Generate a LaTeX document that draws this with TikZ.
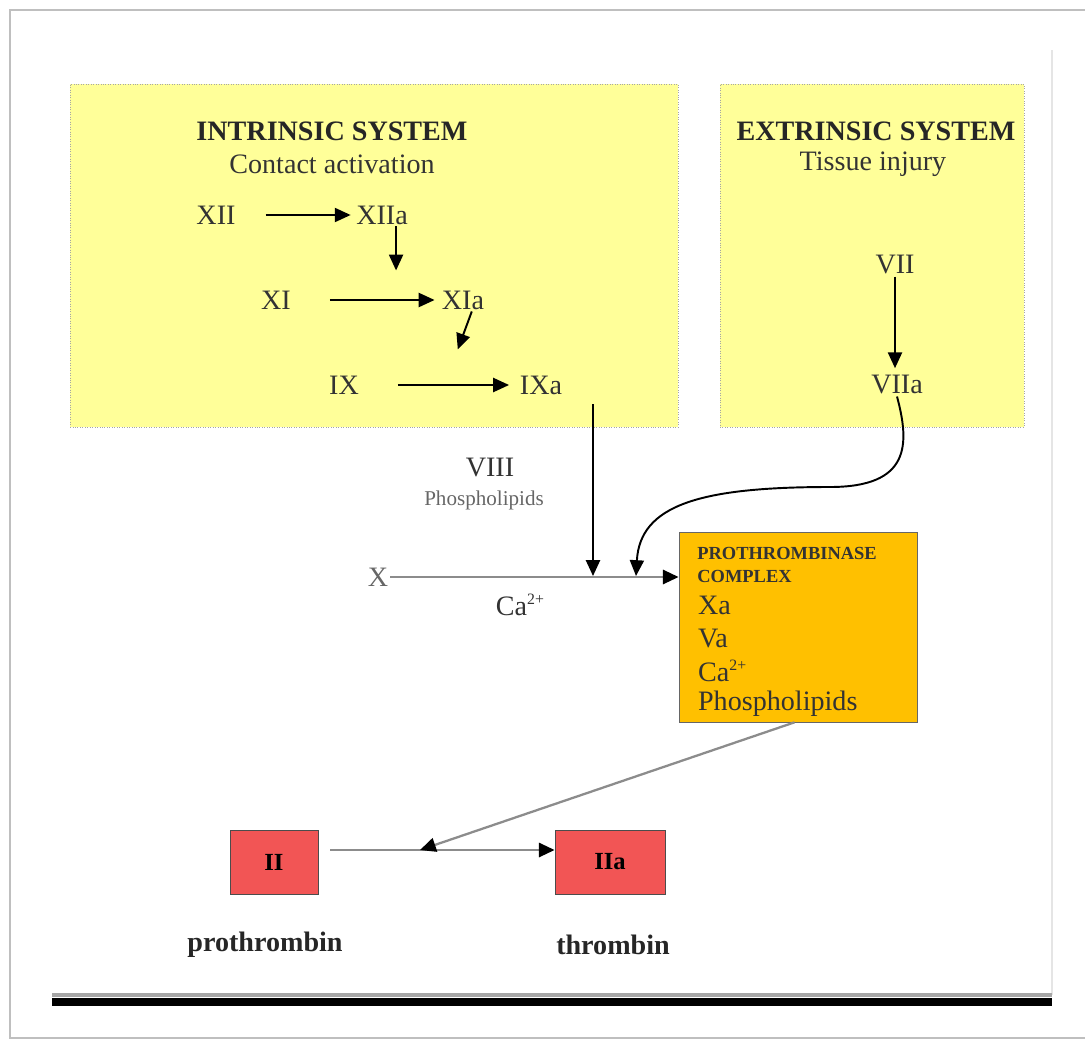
\documentclass[tikz,border=0pt]{standalone}
\usepackage{fontspec}
\setmainfont{Liberation Serif}
\usetikzlibrary{arrows.meta,positioning,calc}
\definecolor{padyellow}{HTML}{FFFF99}
\definecolor{complexgold}{HTML}{FFC000}
\definecolor{factorred}{HTML}{F25555}
\newcommand{\ionsup}[1]{\raisebox{0.85ex}{\fontsize{9}{9}\selectfont #1}}

\begin{document}
\begin{tikzpicture}[
    x=0.02cm, y=-0.02cm,
    panel/.style={rectangle, draw=black!35, densely dotted, fill=padyellow, inner sep=0pt},
    title/.style={font=\bfseries\fontsize{16}{19}\selectfont, text=black!85},
    factor/.style={font=\fontsize{16}{19}\selectfont, text=black!80, inner sep=1pt},
    small/.style={font=\fontsize{12}{14}\selectfont, text=black!60, inner sep=1pt},
    arr/.style={-{Triangle[length=9pt,width=8pt]}, line width=1.1pt},
    garr/.style={-{Triangle[length=9pt,width=8pt,color=black]}, draw=black!45, line width=1.6pt},
    redbox/.style={rectangle, draw=black!70, fill=factorred, minimum height=1.28cm, font=\bfseries\fontsize{14}{16}\selectfont}
]
\useasboundingbox (0,0) rectangle (1085,1041);
% page frame
\draw[black!25, line width=1.5pt] (1085,10) -- (10,10) -- (10,1038) -- (1085,1038);
\draw[black!10, line width=1pt] (1052,50) -- (1052,995);

% the two systems
\node[panel, minimum width=12.16cm, minimum height=6.86cm] (intr) at (374,255.5) {};
\node[panel, minimum width=6.08cm, minimum height=6.86cm] (extr) at (872,255.5) {};

\node[title] (intrtitle) at (332,131) {INTRINSIC SYSTEM};
\node[factor] (contact) at (332,164) {Contact activation};
\node[title] (extrtitle) at (876,131) {EXTRINSIC SYSTEM};
\node[factor] (injury) at (873,164) {Tissue injury};

% intrinsic cascade
\node[factor] (XII) at (216,215) {XII};
\node[factor] (XIIa) at (382,215) {XIIa};
\node[factor] (XI) at (276,300) {XI};
\node[factor] (XIa) at (463,300) {XIa};
\node[factor] (IX) at (344,385) {IX};
\node[factor] (IXa) at (541,385) {IXa};

\draw[arr] ([xshift=16pt]XII.east) -- ([xshift=-2pt]XIIa.west);
\draw[arr] ([xshift=8pt]XIIa.south) -- ++(0,44);
\draw[arr] ([xshift=21pt]XI.east) -- ([xshift=-3pt]XIa.west);
\draw[arr] ([xshift=5pt]XIa.south) -- ++(-14,38);
\draw[arr] ([xshift=21pt]IX.east) -- ([xshift=-5pt]IXa.west);

% extrinsic
\node[factor] (VII) at (895,265) {VII};
\node[factor] (VIIa) at (897,385) {VIIa};
\draw[arr] (VII.south) -- ([yshift=3pt]VII.south |- VIIa.north);

% factor X activation
\node[factor] (VIII) at (490,468) {VIII};
\node[small] (phos) at (484,500) {Phospholipids};
\node[factor, text=black!60] (X) at (378,577) {X};
\node[factor] (ca) at (520,605) {Ca\ionsup{2+}};

\node[rectangle, draw=black!60, fill=complexgold, minimum width=4.76cm, minimum height=3.8cm] (complex) at (798,627) {};
\node[anchor=west, font=\bfseries\fontsize{10.5}{12}\selectfont, text=black!80, inner sep=0pt] (cxt1) at (697,553) {PROTHROMBINASE};
\node[anchor=west, font=\bfseries\fontsize{10.5}{12}\selectfont, text=black!80, inner sep=0pt] (cxt2) at (697,576) {COMPLEX};
\node[anchor=west, factor] (cxa) at (696,605) {Xa};
\node[anchor=west, factor] (cva) at (696,639) {Va};
\node[anchor=west, factor] (cca) at (696,671) {Ca\ionsup{2+}};
\node[anchor=west, factor] (cph) at (696,704) {Phospholipids};

\coordinate (jnA) at (593,576);
\coordinate (jnB) at (636,576);
\draw[garr] (X.east) -- (complex.west |- X.east);
\draw[arr] (jnA |- IXa.south) ++(0,8) -- (jnA);
\draw[arr] (VIIa.south) .. controls (910,445) and (910,487) .. (830,487)
    .. controls (700,487) and (640,505) .. (jnB);

% prothrombin to thrombin
\node[redbox, minimum width=1.76cm] (II) at (274,862) {II};
\node[redbox, minimum width=2.2cm] (IIa) at (610,862) {IIa};
\node[title] (prothrombin) at (265,945) {prothrombin};
\node[title] (thrombin) at (613,945) {thrombin};

\coordinate (jnC) at (420,850);
\draw[garr] (II.east |- jnC) ++(12,0) -- (IIa.west |- jnC);
\draw[garr, line width=1.3pt] ([xshift=-2pt]complex.south) -- (jnC);

% bottom rule
\draw[black!35, line width=2pt] (52,995) -- (1052,995);
\draw[black, line width=4pt] (52,1002) -- (1052,1002);
\end{tikzpicture}
\end{document}
